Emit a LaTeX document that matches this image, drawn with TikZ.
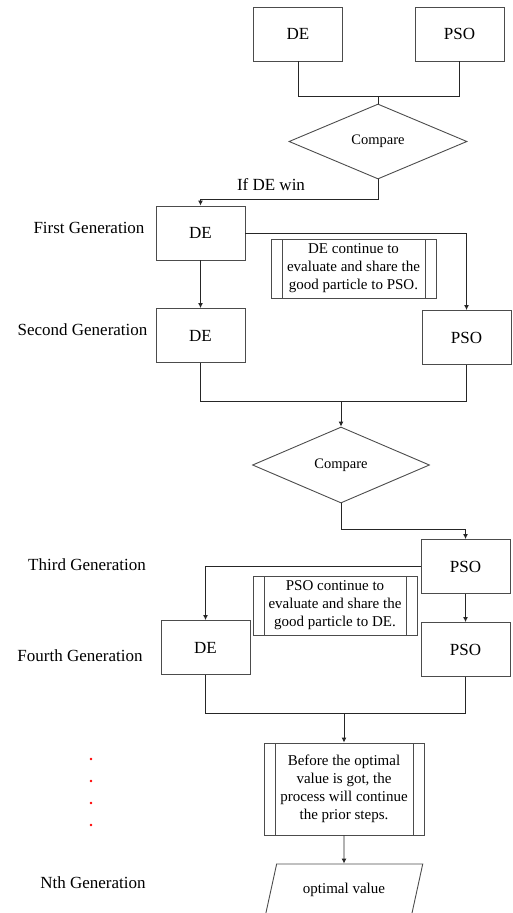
\documentclass[tikz,border=0pt]{standalone}
\usepackage{fontspec}
\setmainfont{Liberation Serif}
\usetikzlibrary{shapes.geometric,arrows.meta}
\begin{document}
\begin{tikzpicture}[x=1pt,y=-1pt,
  box/.style={draw=black!70, line width=0.9pt, minimum width=89pt, minimum height=54pt, inner sep=0pt, font=\fontsize{17}{20}\selectfont},
  decision/.style={diamond, draw=black!70, line width=0.9pt, inner sep=0pt, font=\fontsize{14.5}{17}\selectfont},
  procbox/.style={draw=black!70, line width=0.9pt, inner sep=0pt, align=center, font=\fontsize{15}{18}\selectfont,
    path picture={\draw[black!70,line width=0.9pt]
      ([xshift=11pt]path picture bounding box.north west) -- ([xshift=11pt]path picture bounding box.south west)
      ([xshift=-11pt]path picture bounding box.north east) -- ([xshift=-11pt]path picture bounding box.south east);}},
  gen/.style={font=\fontsize{17}{20}\selectfont, inner sep=0pt},
  conn/.style={draw=black!85, line width=0.9pt},
  arr/.style={conn, -{Latex[length=5pt,width=5pt]}},
  dot/.style={circle, fill=red, inner sep=0pt, minimum size=2.8pt},
]
\useasboundingbox (0,0) rectangle (512,913);
\clip (0,0) rectangle (512,913);

% top
\node[box] (de0) at (298,34) {DE};
\node[box] (pso0) at (459.5,34) {PSO};
\node[decision, minimum width=178pt, minimum height=75pt] (cmp1) at (378,141.5) {Compare};
\coordinate (j1) at (378,96);
\coordinate (k1) at (378,199);
\node[gen] (ifde) at (271,185) {If DE win};

% first / second generation
\node[box] (de1) at (200.5,233) {DE};
\node[gen] (g1) at (89,228) {First Generation};
\node[procbox, minimum width=165pt, minimum height=59pt] (p1) at (353.5,268.5)
  {DE continue to\\evaluate and share the\\good particle to PSO.};
\node[box] (de2) at (200.5,335.5) {DE};
\node[gen] (g2) at (82.5,330) {Second Generation};
\node[box] (pso2) at (466.5,337.5) {PSO};
\coordinate (j2) at (341,401);
\node[decision, minimum width=177pt, minimum height=76pt] (cmp2) at (341,465) {Compare};
\coordinate (k2) at (341,529);

% third / fourth generation
\node[box] (pso3) at (465.5,566.5) {PSO};
\node[gen] (g3) at (87,565) {Third Generation};
\node[procbox, minimum width=164pt, minimum height=59pt] (p2) at (335,605.5)
  {PSO continue to\\evaluate and share the\\good particle to DE.};
\node[box] (de4) at (205.5,647.5) {DE};
\node[gen] (g4) at (80,656) {Fourth Generation};
\node[box] (pso4) at (465.5,649.5) {PSO};
\coordinate (j3) at (344,713);

% dots
\node[dot] (d1) at (91,759) {};
\node[dot] (d2) at (91,781) {};
\node[dot] (d3) at (91,803) {};
\node[dot] (d4) at (91,825) {};

% final
\node[procbox, minimum width=160pt, minimum height=92pt] (p3) at (344,789)
  {Before the optimal\\value is got, the\\process will continue\\the prior steps.};
\node[trapezium, trapezium left angle=63, trapezium right angle=117, trapezium stretches=true,
  draw=black!70, line width=0.9pt, inner sep=0pt, minimum width=158pt, minimum height=52pt,
  font=\fontsize{15}{18}\selectfont] (opt) at (344,890) {optimal value};
\node[gen] (gn) at (93,883) {Nth Generation};

% connectors
\draw[conn] (de0.south) |- (j1);
\draw[conn] (pso0.south) |- (j1);
\draw[conn] (j1) -- (cmp1.north);
\draw[arr] (cmp1.south) -- (k1) -| (de1.north);
\draw[arr] (de1.east) -| (pso2.north);
\draw[arr] (de1.south) -- (de2.north);
\draw[conn] (de2.south) |- (j2);
\draw[conn] (pso2.south) |- (j2);
\draw[arr] (j2) -- (cmp2.north);
\draw[arr] (cmp2.south) -- (k2) -| (pso3.north);
\draw[arr] (pso3.west) -| (de4.north);
\draw[arr] (pso3.south) -- (pso4.north);
\draw[conn] (de4.south) |- (j3);
\draw[conn] (pso4.south) |- (j3);
\draw[arr] (j3) -- (p3.north);
\draw[arr] (p3.south) -- (opt.north);
\end{tikzpicture}
\end{document}
